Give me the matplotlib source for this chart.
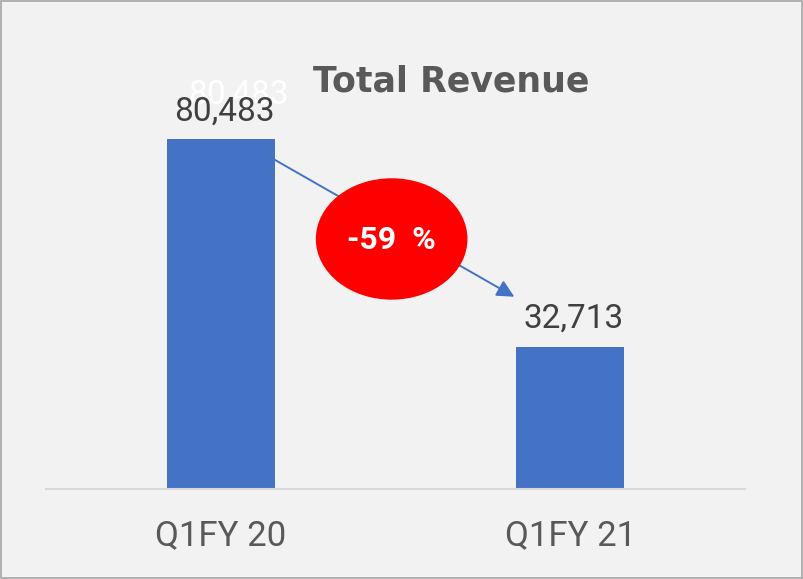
import matplotlib
matplotlib.use("Agg")
import matplotlib.pyplot as plt
from matplotlib.patches import Ellipse, Rectangle

# Data
quarters = ["Q1FY 20", "Q1FY 21"]
revenue = [80483, 32713]
change_label = "-59  %"

bar_color = "#4472C4"
label_font = ["Roboto", "DejaVu Sans"]

fig = plt.figure(figsize=(8.04, 5.79), dpi=100, facecolor="#F2F2F2")
ax = fig.add_axes([0.0572, 0.1554, 0.8694, 0.676])
ax.set_facecolor("#F2F2F2")

x = range(len(quarters))
w = 0.31
ax.bar(x, revenue, width=w, color=bar_color, zorder=2)
ax.set_xlim(-0.5, 1.5)
ax.set_ylim(0, 90000)

for s in ["top", "left", "right"]:
    ax.spines[s].set_visible(False)
ax.spines["bottom"].set_color("#D9D9D9")
ax.spines["bottom"].set_linewidth(1.5)
ax.set_yticks([])
ax.set_xticks(list(x))
ax.set_xticklabels(quarters, fontsize=25, color="#595959", family=label_font)
ax.tick_params(axis="x", length=0, pad=22)

# value labels
for i, v in enumerate(revenue):
    ax.text(i + 0.01, v + 2700, f"{v:,}", ha="center", va="bottom",
            fontsize=24, color="#404040", family=label_font, zorder=3)
# stray white duplicate label behind the title
ax.text(0.05, revenue[0] + 6600, f"{revenue[0]:,}", ha="center", va="bottom",
        fontsize=24, color="white", family=label_font, zorder=1)

fig.text(0.561, 0.86, "Total Revenue", ha="center", va="center",
         fontsize=25, fontweight="bold", color="#595959")

# arrow from first bar to second
ax.annotate("", xy=(1 - w / 2 - 0.005, revenue[1] + 11500),
            xytext=(w / 2, revenue[0] - 4800),
            arrowprops=dict(arrowstyle="-|>", color=bar_color, lw=1.4,
                            mutation_scale=26, shrinkA=0, shrinkB=0),
            zorder=3)

ell = Ellipse((0.489, 57500), 0.43, 27600, color="#FF0000", zorder=4)
ax.add_patch(ell)
ax.text(0.489, 57200, change_label, ha="center", va="center", fontsize=23,
        fontweight="bold", color="white", family=label_font, zorder=5)

fig.patches.append(Rectangle((0.001, 0.001), 0.997, 0.997, transform=fig.transFigure,
                             fill=False, edgecolor="#A6A6A6", lw=1.2))

fig.savefig("out.png", dpi=100, facecolor=fig.get_facecolor())
